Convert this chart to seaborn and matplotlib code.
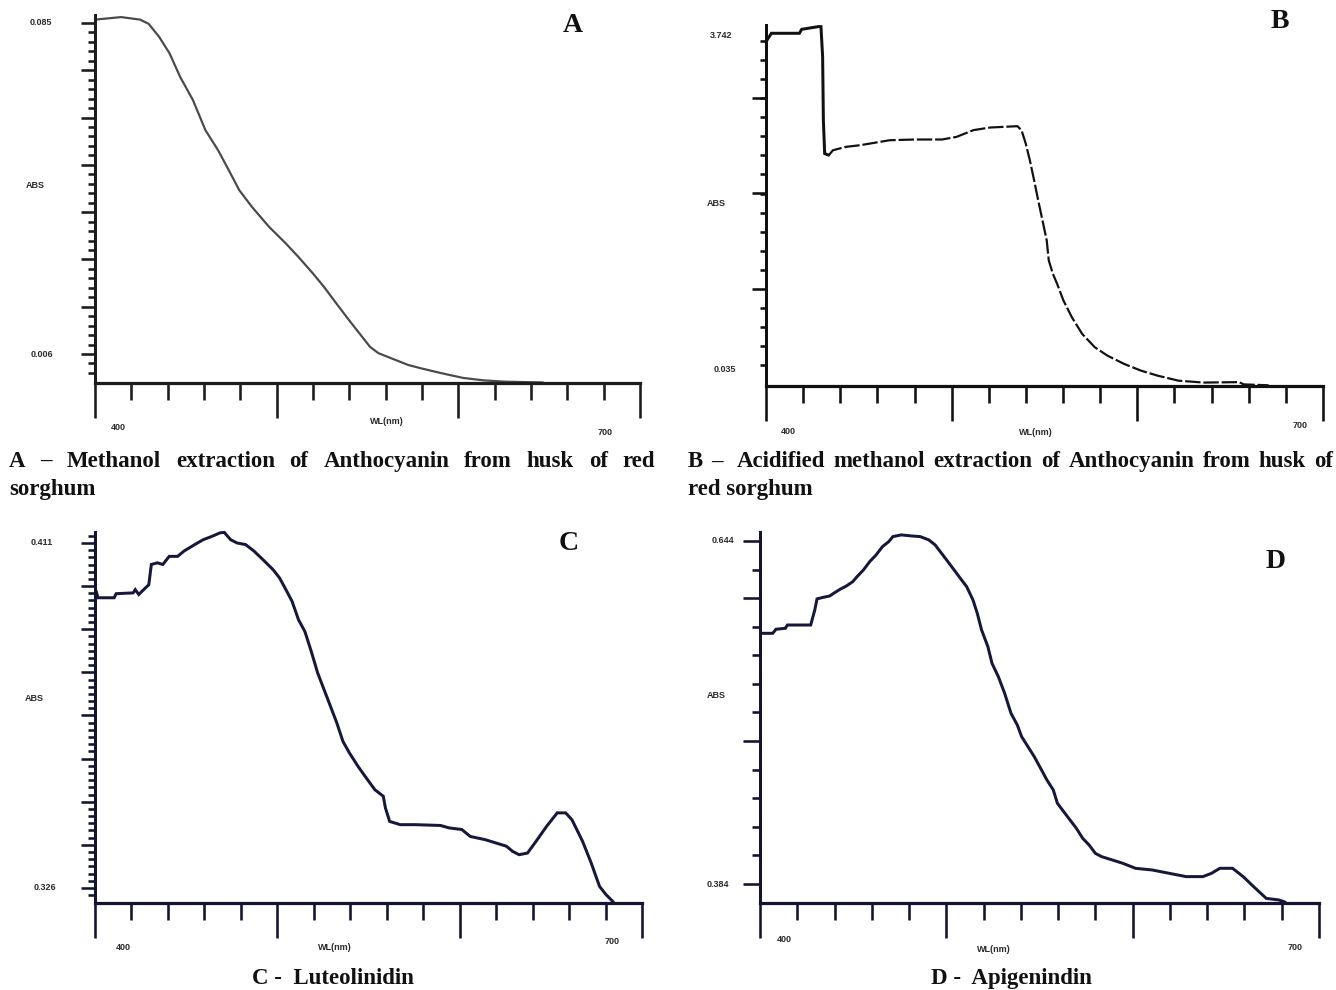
import numpy as np
import pandas as pd
import matplotlib
matplotlib.use("Agg")
import matplotlib.pyplot as plt
import seaborn as sns

# ---------------- data ----------------
a_wl = [400.0, 414.4, 424.8, 429.5, 435.3, 441.1, 446.9, 453.9, 460.8, 467.8, 473.6,
        479.4, 486.4, 495.7, 505.0, 511.9, 520.0, 525.9, 532.8, 539.8, 545.6, 551.4,
        556.0, 565.3, 572.3, 579.3, 590.9, 602.5, 614.1, 625.7, 646.6]
a_abs = [0.0858, 0.0864, 0.0858, 0.0848, 0.0817, 0.0777, 0.0721, 0.0666, 0.0594, 0.0546,
         0.0499, 0.0451, 0.0411, 0.0364, 0.0324, 0.0292, 0.0252, 0.0221, 0.0181, 0.0141,
         0.0109, 0.0077, 0.0062, 0.0046, 0.0034, 0.0026, 0.0014, 0.0003, -0.0003,
         -0.0006, -0.0008]

b_wl = [400.0, 402.9, 418.0, 419.2, 428.2, 429.6, 430.5, 430.9, 431.6, 433.8, 436.1,
        442.9, 450.8, 466.6, 480.1, 494.8, 502.6, 511.7, 520.7, 535.4, 537.6, 539.9,
        542.1, 544.4, 546.6, 548.9, 551.2, 552.3, 554.5, 556.8, 560.2, 564.7, 570.3,
        577.1, 583.9, 592.9, 601.9, 610.9, 622.2, 635.7, 654.9, 657.2, 670.7]
b_abs = [3.679, 3.772, 3.772, 3.816, 3.846, 3.846, 3.512, 2.808, 2.437, 2.419, 2.474,
         2.511, 2.530, 2.585, 2.593, 2.593, 2.622, 2.697, 2.726, 2.741, 2.697, 2.548,
         2.363, 2.141, 1.918, 1.696, 1.473, 1.251, 1.103, 0.991, 0.806, 0.621, 0.435,
         0.287, 0.194, 0.102, 0.028, -0.028, -0.084, -0.105, -0.100, -0.125, -0.135]

c_wl = [400.7, 401.6, 410.5, 411.6, 420.9, 422.1, 424.0, 426.7, 429.5, 430.9, 434.2,
        437.2, 440.7, 445.3, 448.8, 454.7, 459.3, 464.0, 468.6, 470.9, 474.4, 477.9,
        482.6, 487.2, 493.0, 497.7, 501.2, 504.7, 508.1, 511.6, 515.1, 518.6, 522.1,
        525.6, 529.1, 532.6, 536.0, 539.5, 544.2, 548.8, 553.5, 558.1, 559.3, 561.6,
        567.4, 575.6, 589.5, 594.2, 601.2, 605.8, 614.0, 619.8, 625.6, 629.1, 632.6,
        637.2, 641.9, 647.7, 653.5, 658.1, 661.6, 667.4, 672.1, 676.7, 680.2, 684.4]
c_abs = [0.3991, 0.3975, 0.3975, 0.3985, 0.3987, 0.3995, 0.3983, 0.3995, 0.4007, 0.4057,
         0.4061, 0.4057, 0.4077, 0.4077, 0.4090, 0.4106, 0.4118, 0.4126, 0.4135, 0.4136,
         0.4118, 0.4110, 0.4106, 0.4090, 0.4065, 0.4044, 0.4024, 0.3995, 0.3966, 0.3921,
         0.3892, 0.3843, 0.3790, 0.3749, 0.3708, 0.3667, 0.3621, 0.3593, 0.3560, 0.3531,
         0.3502, 0.3486, 0.3457, 0.3424, 0.3416, 0.3416, 0.3414, 0.3408, 0.3404, 0.3387,
         0.3379, 0.3371, 0.3363, 0.3350, 0.3342, 0.3346, 0.3375, 0.3412, 0.3445, 0.3445,
         0.3428, 0.3375, 0.3322, 0.3264, 0.3244, 0.3225]

d_wl = [400.7, 406.8, 408.6, 413.6, 414.7, 427.2, 429.4, 430.6, 434.0, 437.4, 439.6,
        443.0, 446.4, 449.8, 452.1, 455.5, 458.9, 462.3, 465.7, 469.1, 471.3, 475.8,
        481.5, 486.0, 490.6, 494.0, 497.4, 500.8, 504.2, 507.5, 510.9, 514.3, 516.6,
        518.9, 522.3, 524.5, 527.9, 531.3, 534.7, 538.1, 540.4, 543.8, 547.2, 550.6,
        554.0, 557.4, 559.6, 563.0, 566.4, 569.8, 573.2, 576.6, 580.0, 583.4, 589.1,
        594.7, 601.5, 610.6, 619.6, 628.7, 637.7, 642.3, 646.8, 653.6, 659.3, 664.9,
        671.7, 678.5, 681.9]
d_abs = [0.5740, 0.5740, 0.5771, 0.5778, 0.5803, 0.5803, 0.5917, 0.6001, 0.6013, 0.6023,
         0.6044, 0.6074, 0.6099, 0.6132, 0.6170, 0.6220, 0.6284, 0.6334, 0.6397, 0.6435,
         0.6473, 0.6486, 0.6478, 0.6473, 0.6448, 0.6410, 0.6347, 0.6284, 0.6220, 0.6157,
         0.6094, 0.5993, 0.5892, 0.5766, 0.5639, 0.5513, 0.5412, 0.5285, 0.5134, 0.5045,
         0.4957, 0.4881, 0.4805, 0.4717, 0.4628, 0.4553, 0.4452, 0.4388, 0.4325, 0.4262,
         0.4186, 0.4136, 0.4072, 0.4047, 0.4022, 0.3997, 0.3959, 0.3946, 0.3921, 0.3896,
         0.3896, 0.3921, 0.3959, 0.3959, 0.3896, 0.3820, 0.3731, 0.3719, 0.3702]

panel_letters = ["A", "B", "C", "D"]
y_top_labels = ["0.085", "3.742", "0.411", "0.644"]
y_top_values = [0.085, 3.742, 0.411, 0.644]
y_bot_labels = ["0.006", "0.035", "0.326", "0.384"]
y_bot_values = [0.006, 0.035, 0.326, 0.384]
y_axis_title = "ABS"
x_axis_title = "WL(nm)"
x_first_label, x_last_label = "400", "700"

caption_a1 = ["A", "–", "Methanol", "extraction", "of", "Anthocyanin", "from", "husk", "of", "red"]
caption_a2 = "sorghum"
caption_b1 = ["B", "– ", "Acidified", "methanol", "extraction", "of", "Anthocyanin", "from", "husk", "of"]
caption_b2 = "red sorghum"
caption_c = "C -  Luteolinidin"
caption_d = "D -  Apigenindin"

# ---------------- styling / layout ----------------
sns.set_theme(style="white")
plt.rcParams['font.family'] = ['Liberation Sans', 'DejaVu Sans']
SERIF = ['Liberation Serif', 'DejaVu Serif']

W, H = 1336, 990
fig = plt.figure(figsize=(W / 100, H / 100), dpi=100)
fig.patch.set_facecolor("white")


def pt(v):
    return v * 0.72


def make_axes(left, right, top, bottom):
    return fig.add_axes([left / W, 1 - bottom / H, (right - left) / W, (bottom - top) / H])


panels = [
    dict(box=(95, 640, 15, 383), ylim=(-0.00092, 0.0869), wl=a_wl, ab=a_abs,
         color="#4a4a4a", lw=2.2, spine="#1c1c1c",
         ylab_dx=(-54, -60, -53), abs_val=0.0461,
         x400=(23, 45), wlt=(560.7, 39), x700=(-35, 50),
         ymaj=np.linspace(0.006, 0.085, 8), ystep=0.079 / 35, ymaj_len=14, ymin_len=7),
    dict(box=(766, 1323, 25, 386), ylim=(-0.143, 3.864), wl=b_wl, ab=b_abs,
         color="#111111", lw=3.0, spine="#111111",
         ylab_dx=(-45, -50, -41), abs_val=1.88,
         x400=(22, 45), wlt=(545.4, 46), x700=(-23, 39),
         ymaj=np.array([0.936, 1.994, 3.052]), ystep=0.2115, ymaj_len=14, ymin_len=6),
    dict(box=(95, 642, 532, 903), ylim=(0.3223, 0.4137), wl=c_wl, ab=c_abs,
         color="#17173a", lw=3.0, spine="#141430",
         ylab_dx=(-53, -61, -50), abs_val=0.3726,
         x400=(28, 44), wlt=(531.6, 45), x700=(-30, 39),
         ymaj=np.linspace(0.326, 0.411, 9), ystep=0.085 / 48, ymaj_len=14, ymin_len=7),
    dict(box=(760, 1319, 532, 903), ylim=(0.3696, 0.6508), wl=d_wl, ab=d_abs,
         color="#17173a", lw=3.0, spine="#141430",
         ylab_dx=(-37, -44, -42), abs_val=0.5271,
         x400=(24, 36), wlt=(525.6, 47), x700=(-24, 44),
         ymaj=np.linspace(0.384, 0.644, 13)[[0, 5, 10, 12]], ystep=0.26 / 12, ymaj_len=17, ymin_len=8),
]

letter_pos = [(573, 25), (1280, 22), (569, 544), (1276, 561)]

tick_font = dict(fontsize=6.5, fontweight='bold', color='#2b2b2b')

for i, p in enumerate(panels):
    ax = make_axes(*p["box"])
    ax.set_facecolor("white")
    df = pd.DataFrame({"wl": p["wl"], "abs": p["ab"]})
    if i == 1:
        solid = df[df["wl"] <= 434]
        rest = df[df["wl"] >= 433]
        sns.lineplot(data=solid, x="wl", y="abs", ax=ax, color=p["color"],
                     linewidth=pt(3.0), estimator=None, sort=False, legend=False)
        sns.lineplot(data=rest, x="wl", y="abs", ax=ax, color=p["color"],
                     linewidth=pt(2.2), estimator=None, sort=False, legend=False,
                     dashes=False)
        ax.lines[-1].set_dashes((7, 1.3))
    else:
        sns.lineplot(data=df, x="wl", y="abs", ax=ax, color=p["color"],
                     linewidth=pt(p["lw"]), estimator=None, sort=False, legend=False)
    for ln in ax.lines:
        ln.set_clip_on(False)
        ln.set_solid_joinstyle("miter")

    ax.set_xlim(400, 700)
    ax.set_ylim(*p["ylim"])
    ax.set_xlabel("")
    ax.set_ylabel("")
    for s in ("top", "right"):
        ax.spines[s].set_visible(False)
    ax.spines["left"].set_linewidth(pt(3))
    ax.spines["bottom"].set_linewidth(pt(3.2))
    ax.spines["left"].set_color(p["spine"])
    ax.spines["bottom"].set_color(p["spine"])

    ax.set_xticks([400, 500, 600, 700])
    ax.set_xticks(np.arange(400, 701, 20), minor=True)
    ymaj = p["ymaj"]
    ystep = p["ystep"]
    lo, hi = p["ylim"]
    yminor = np.arange(ymaj[0] - ystep * 40, hi, ystep)
    yminor = yminor[(yminor > lo + ystep * 0.3) & (yminor <= hi)]
    ax.set_yticks(ymaj)
    ax.set_yticks(yminor, minor=True)
    ax.tick_params(which="both", bottom=True, left=True, labelbottom=False,
                   labelleft=False, direction="out", color=p["spine"], width=pt(2.6))
    ax.tick_params(axis="x", which="major", length=pt(35))
    ax.tick_params(axis="x", which="minor", length=pt(17))
    ax.tick_params(axis="y", which="major", length=pt(p["ymaj_len"]))
    ax.tick_params(axis="y", which="minor", length=pt(p["ymin_len"]))
    ax.grid(False)

    # y-axis labels
    dx_top, dx_abs, dx_bot = p["ylab_dx"]
    ax.annotate(y_top_labels[i], xy=(0, y_top_values[i]), xycoords=('axes fraction', 'data'),
                xytext=(pt(dx_top), 0), textcoords='offset points', ha='center', va='center',
                annotation_clip=False, **tick_font)
    ax.annotate(y_axis_title, xy=(0, p["abs_val"]), xycoords=('axes fraction', 'data'),
                xytext=(pt(dx_abs), 0), textcoords='offset points', ha='center', va='center',
                annotation_clip=False, **tick_font)
    ax.annotate(y_bot_labels[i], xy=(0, y_bot_values[i]), xycoords=('axes fraction', 'data'),
                xytext=(pt(dx_bot), 0), textcoords='offset points', ha='center', va='center',
                annotation_clip=False, **tick_font)
    # x-axis labels
    ax.annotate(x_first_label, xy=(0, 0), xycoords='axes fraction',
                xytext=(pt(p["x400"][0]), -pt(p["x400"][1])), textcoords='offset points',
                ha='center', va='center', annotation_clip=False, **tick_font)
    ax.annotate(x_axis_title, xy=(p["wlt"][0], 0), xycoords=('data', 'axes fraction'),
                xytext=(0, -pt(p["wlt"][1])), textcoords='offset points',
                ha='center', va='center', annotation_clip=False, **tick_font)
    ax.annotate(x_last_label, xy=(1, 0), xycoords='axes fraction',
                xytext=(pt(p["x700"][0]), -pt(p["x700"][1])), textcoords='offset points',
                ha='center', va='center', annotation_clip=False, **tick_font)

    lx, ly = letter_pos[i]
    fig.text(lx / W, 1 - ly / H, panel_letters[i], fontsize=20, fontweight='bold',
             family=SERIF, ha='center', va='center', color='#111111')

# ---------------- captions ----------------
CAP_SIZE = 16.5
renderer = fig.canvas.get_renderer()


def justified(words, x0, x1, y):
    texts = [fig.text(0, 0, w, fontsize=CAP_SIZE, fontweight='bold', family=SERIF,
                      ha='left', va='baseline', color='#111111') for w in words]
    widths = [t.get_window_extent(renderer).width for t in texts]
    gap = ((x1 - x0) - sum(widths)) / (len(words) - 1)
    x = x0
    for t, w in zip(texts, widths):
        t.set_position((x / W, 1 - y / H))
        x += w + gap


def plain(txt, x, y, ha='left'):
    fig.text(x / W, 1 - y / H, txt, fontsize=CAP_SIZE, fontweight='bold', family=SERIF,
             ha=ha, va='baseline', color='#111111')


justified(caption_a1, 9, 655, 467)
plain(caption_a2, 9, 495)
justified(caption_b1, 688, 1333, 467)
plain(caption_b2, 688, 495)
plain(caption_c, 333, 984, ha='center')
plain(caption_d, 1011, 984, ha='center')

fig.savefig("out.png", dpi=100, facecolor="white")
